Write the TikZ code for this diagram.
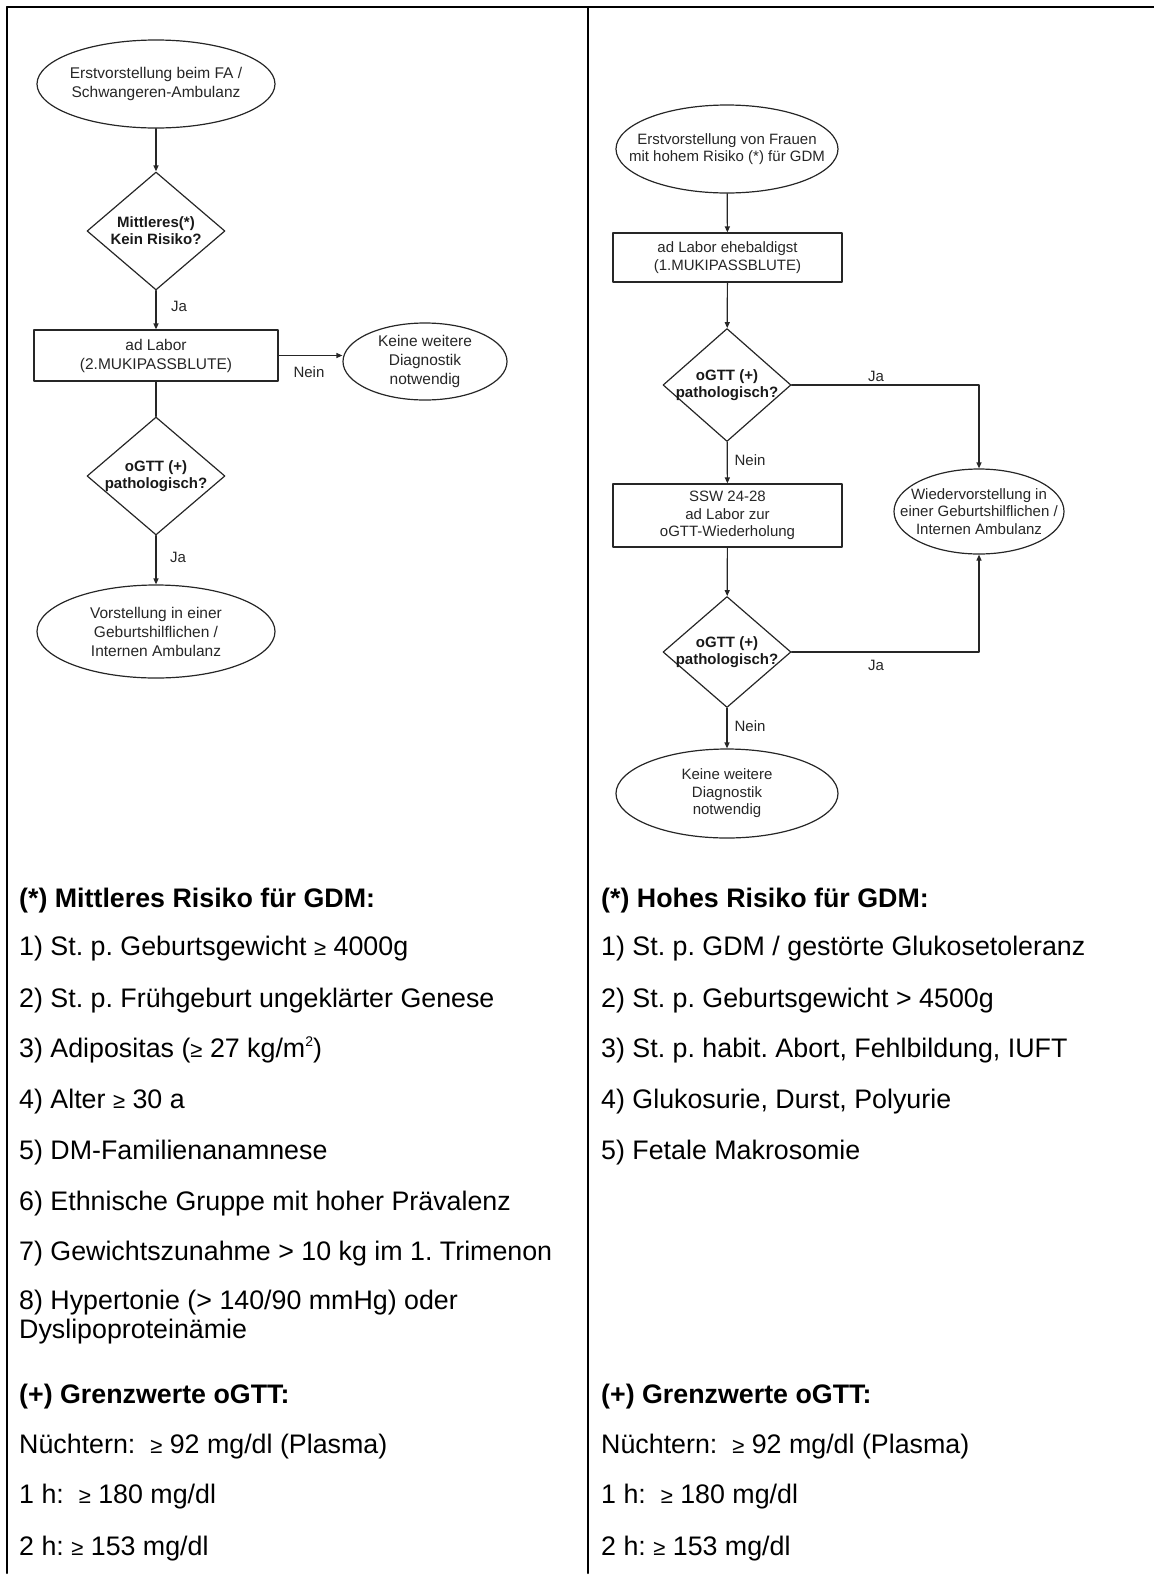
\documentclass[tikz,border=0pt]{standalone}
\usepackage{fontspec}
\setmainfont{Liberation Sans}
\usetikzlibrary{shapes.geometric,arrows.meta,positioning}

\newcommand{\gesm}{{\fontsize{22}{22}\selectfont ≥}}
\newcommand{\sqsup}{\raisebox{0.75ex}{\fontsize{14}{14}\selectfont 2}}

\begin{document}
\frenchspacing
\begin{tikzpicture}[x=1pt, y=-1pt, line cap=round, line join=round,
  flow/.style={draw=black!85, line width=1.2pt},
  oval/.style={flow, ellipse, inner sep=0pt},
  rhomb/.style={flow, diamond, inner sep=0pt},
  labbox/.style={flow, rectangle, inner sep=0pt, align=center, text=black!85,
    font=\fontsize{15}{17.5}\selectfont},
  ftxt/.style={align=center, text=black!85, font=\fontsize{15}{17.5}\selectfont},
  bigtxt/.style={font=\fontsize{15.5}{19}\selectfont},
  qtxt/.style={align=center, text=black!90, font=\fontsize{15}{17}\selectfont\bfseries},
  arr/.style={flow, -{Triangle[length=6pt,width=5pt]}},
  lnk/.style={flow},
  yn/.style={text=black!85, font=\fontsize{15}{17}\selectfont},
  head/.style={anchor=base west, inner sep=0pt, font=\fontsize{26.8}{30}\selectfont\bfseries},
  item/.style={anchor=base west, inner sep=0pt, font=\fontsize{26.8}{30}\selectfont},
]
\useasboundingbox (0,0) rectangle (1154,1575);
% frame
\draw[line width=2pt] (7,7) -- (1154,7);
\draw[line width=2pt] (7,7) -- (7,1573);
\draw[line width=2pt] (588,7) -- (588,1573);

% left chart: mittleres risiko
\node[oval, minimum width=238, minimum height=88,
  label={[ftxt,bigtxt]center:Erstvorstellung beim FA /\\Schwangeren-Ambulanz}] (start) at (156,84) {};
\node[rhomb, minimum width=138, minimum height=118,
  label={[qtxt]center:Mittleres(*)\\Kein Risiko?}] (q1) at (156,231) {};
\node[labbox, bigtxt, minimum width=244, minimum height=51] (lab2) at (156,355.5) {ad Labor\\(2.MUKIPASSBLUTE)};
\node[oval, minimum width=164, minimum height=77,
  label={[ftxt,bigtxt]center:Keine weitere\\Diagnostik\\notwendig}] (none1) at (425,361.5) {};
\node[rhomb, minimum width=138, minimum height=118,
  label={[qtxt]center:oGTT (+)\\pathologisch?}] (q2) at (156,476) {};
\node[oval, minimum width=238, minimum height=93,
  label={[ftxt,bigtxt]center:Vorstellung in einer\\Geburtshilflichen /\\Internen Ambulanz}] (amb1) at (156,631.5) {};

\draw[arr] (start) -- (q1);
\draw[arr] (q1) -- (lab2);
\draw[arr] (lab2.east) -- (none1.west |- lab2.east);
\draw[lnk] (lab2) -- (q2);
\draw[arr] (q2) -- (amb1);
\node[yn] (ja1) at (179,306) {Ja};
\node[yn] (nein1) at (309,372) {Nein};
\node[yn] (ja2) at (178,557) {Ja};

% right chart: hohes risiko
\node[oval, minimum width=222, minimum height=88,
  label={[ftxt]center:Erstvorstellung von Frauen\\mit hohem Risiko (*) für GDM}] (start2) at (727,149) {};
\node[labbox, minimum width=229, minimum height=49] (lab1) at (727.5,257.5) {ad Labor ehebaldigst\\(1.MUKIPASSBLUTE)};
\node[rhomb, minimum width=128, minimum height=113,
  label={[qtxt]center:oGTT (+)\\pathologisch?}] (q3) at (727,385) {};
\node[labbox, minimum width=229, minimum height=63] (lab3) at (727.5,515.5) {SSW 24-28\\ad Labor zur\\oGTT-Wiederholung};
\node[rhomb, minimum width=128, minimum height=111,
  label={[qtxt]center:oGTT (+)\\pathologisch?}] (q4) at (727,652) {};
\node[oval, minimum width=222, minimum height=89,
  label={[ftxt]center:Keine weitere\\Diagnostik\\notwendig}] (none2) at (727,793.5) {};
\node[oval, minimum width=170, minimum height=85,
  label={[ftxt]center:Wiedervorstellung in\\einer Geburtshilflichen /\\Internen Ambulanz}] (amb2) at (979,511.5) {};

\draw[arr] (start2) -- (lab1);
\draw[arr] (lab1) -- (q3);
\draw[arr] (q3) -- (lab3);
\draw[arr] (lab3) -- (q4);
\draw[arr] (q4) -- (none2);
\draw[arr] (q3.east) -| (amb2.north);
\draw[arr] (q4.east) -| (amb2.south);
\node[yn] (ja3) at (876,376) {Ja};
\node[yn] (nein2) at (750,460) {Nein};
\node[yn] (ja4) at (876,665) {Ja};
\node[yn] (nein3) at (750,726) {Nein};

% left notes
\node[head] (lh1) at (19,907) {(*) Mittleres Risiko für GDM:};
\node[item] (l1) at (19,955) {1) St. p. Geburtsgewicht \gesm{} 4000g};
\node[item] (l2) at (19,1007) {2) St. p. Frühgeburt ungeklärter Genese};
\node[item] (l3) at (19,1057) {3) Adipositas (\gesm{} 27 kg/m\sqsup)};
\node[item] (l4) at (19,1108) {4) Alter \gesm{} 30 a};
\node[item] (l5) at (19,1159) {5) DM-Familienanamnese};
\node[item] (l6) at (19,1210) {6) Ethnische Gruppe mit hoher Prävalenz};
\node[item] (l7) at (19,1260) {7) Gewichtszunahme > 10 kg im 1. Trimenon};
\node[item] (l8) at (19,1309) {8) Hypertonie (> 140/90 mmHg) oder};
\node[item] (l8b) at (19,1338) {Dyslipoproteinämie};
\node[head] (lh2) at (19,1403) {(+) Grenzwerte oGTT:};
\node[item] (lg1) at (19,1453) {Nüchtern:\ \ \gesm{} 92 mg/dl (Plasma)};
\node[item] (lg2) at (19,1503) {1 h:\ \ \gesm{} 180 mg/dl};
\node[item] (lg3) at (19,1555) {2 h: \gesm{} 153 mg/dl};

% right notes
\node[head] (rh1) at (601,907) {(*) Hohes Risiko für GDM:};
\node[item] (r1) at (601,955) {1) St. p. GDM / gestörte Glukosetoleranz};
\node[item] (r2) at (601,1007) {2) St. p. Geburtsgewicht > 4500g};
\node[item] (r3) at (601,1057) {3) St. p. habit. Abort, Fehlbildung, IUFT};
\node[item] (r4) at (601,1108) {4) Glukosurie, Durst, Polyurie};
\node[item] (r5) at (601,1159) {5) Fetale Makrosomie};
\node[head] (rh2) at (601,1403) {(+) Grenzwerte oGTT:};
\node[item] (rg1) at (601,1453) {Nüchtern:\ \ \gesm{} 92 mg/dl (Plasma)};
\node[item] (rg2) at (601,1503) {1 h:\ \ \gesm{} 180 mg/dl};
\node[item] (rg3) at (601,1555) {2 h: \gesm{} 153 mg/dl};
\end{tikzpicture}
\end{document}
